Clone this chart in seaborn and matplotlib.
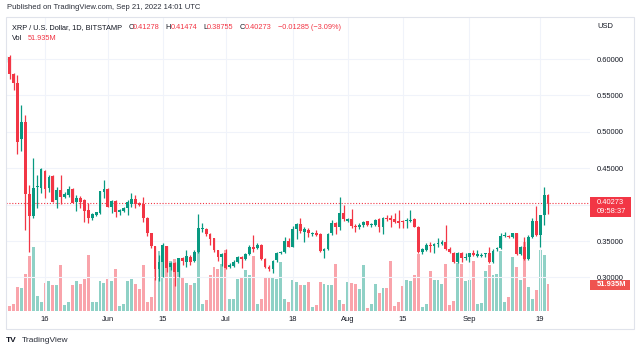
import numpy as np
import pandas as pd
import matplotlib
matplotlib.use("Agg")
import matplotlib.pyplot as plt
import matplotlib.dates as mdates
from matplotlib.patches import Rectangle
import seaborn as sns

sns.set_theme(style="white")
plt.rcParams['font.family'] = ['Liberation Sans', 'DejaVu Sans']

# ---------------- data ----------------
dates = pd.date_range("2022-05-06", "2022-09-21", freq="D")

opens = [
    # May 6-31
    0.5988, 0.6025, 0.5800, 0.5670, 0.4900, 0.5130, 0.4150, 0.3843, 0.4237, 0.4223,
    0.4466, 0.4233, 0.4393, 0.4063, 0.4201, 0.4100, 0.4132, 0.4210, 0.4040, 0.4086,
    0.4063, 0.3921, 0.3811, 0.3857, 0.3880, 0.4173,
    # Jun
    0.4210, 0.3962, 0.4054, 0.3903, 0.3917, 0.3949, 0.4008, 0.4077, 0.4017, 0.4004,
    0.3811, 0.3605, 0.3431, 0.3111, 0.3216, 0.3431, 0.3147, 0.3202, 0.3079, 0.3262,
    0.3216, 0.3285, 0.3225, 0.3353, 0.3665, 0.3665, 0.3592, 0.3537, 0.3376, 0.3285,
    # Jul
    0.3340, 0.3138, 0.3157, 0.3216, 0.3285, 0.3257, 0.3321, 0.3422, 0.3399, 0.3445,
    0.3248, 0.3147, 0.3111, 0.3239, 0.3331, 0.3353, 0.3505, 0.3422, 0.3660, 0.3734,
    0.3619, 0.3651, 0.3592, 0.3605, 0.3596, 0.3367, 0.3390, 0.3605, 0.3743, 0.3688,
    0.3880,
    # Aug
    0.3779, 0.3802, 0.3706, 0.3688, 0.3720, 0.3775, 0.3715, 0.3720, 0.3798, 0.3688,
    0.3811, 0.3811, 0.3798, 0.3779, 0.3775, 0.3775, 0.3779, 0.3798, 0.3697, 0.3353,
    0.3376, 0.3445, 0.3431, 0.3454, 0.3454, 0.3491, 0.3386, 0.3340, 0.3216, 0.3340,
    0.3262,
    # Sep 1-21
    0.3276, 0.3331, 0.3294, 0.3294, 0.3321, 0.3331, 0.3216, 0.3386, 0.3399, 0.3569,
    0.3569, 0.3550, 0.3605, 0.3321, 0.3422, 0.3248, 0.3550, 0.3779, 0.3582, 0.3857,
    0.41278,
]
highs = [
    0.6045, 0.6050, 0.5810, 0.5780, 0.5370, 0.5230, 0.4270, 0.4644, 0.4410, 0.4498,
    0.4475, 0.4407, 0.4407, 0.4246, 0.4407, 0.4178, 0.4255, 0.4223, 0.4132, 0.4118,
    0.4072, 0.4026, 0.3880, 0.3903, 0.4190, 0.4338,
    0.4223, 0.4063, 0.4063, 0.3935, 0.3962, 0.4063, 0.4164, 0.4132, 0.4040, 0.4109,
    0.3834, 0.3610, 0.3435, 0.3308, 0.3468, 0.3435, 0.3216, 0.3210, 0.3265, 0.3285,
    0.3376, 0.3308, 0.3376, 0.3871, 0.3743, 0.3674, 0.3605, 0.3540, 0.3380, 0.3331,
    0.3386, 0.3193, 0.3239, 0.3294, 0.3294, 0.3340, 0.3445, 0.3582, 0.3468, 0.3454,
    0.3262, 0.3170, 0.3239, 0.3353, 0.3367, 0.3550, 0.3537, 0.3706, 0.3752, 0.3811,
    0.3688, 0.3674, 0.3628, 0.3651, 0.3605, 0.3399, 0.3605, 0.3788, 0.3760, 0.4100,
    0.3994,
    0.3811, 0.3935, 0.3734, 0.3752, 0.3775, 0.3779, 0.3752, 0.3798, 0.3811, 0.3825,
    0.3857, 0.3857, 0.3880, 0.3926, 0.3788, 0.3811, 0.3926, 0.3811, 0.3706, 0.3399,
    0.3468, 0.3491, 0.3468, 0.3537, 0.3514, 0.3720, 0.3422, 0.3353, 0.3353, 0.3353,
    0.3331,
    0.3340, 0.3376, 0.3376, 0.3331, 0.3340, 0.3422, 0.3386, 0.3413, 0.3605, 0.3628,
    0.3582, 0.3614, 0.3614, 0.3431, 0.3550, 0.3582, 0.3811, 0.3981, 0.3860, 0.4237,
    0.41474,
]
lows = [
    0.5960, 0.5720, 0.5580, 0.4700, 0.4730, 0.3650, 0.3345, 0.3810, 0.3960, 0.4155,
    0.4086, 0.4178, 0.4035, 0.3958, 0.4008, 0.4086, 0.4109, 0.4017, 0.3912, 0.3949,
    0.3766, 0.3752, 0.3788, 0.3850, 0.3871, 0.4086,
    0.3965, 0.3889, 0.3834, 0.3857, 0.3903, 0.3857, 0.3962, 0.3949, 0.3981, 0.3766,
    0.3569, 0.3399, 0.2964, 0.2951, 0.3010, 0.3079, 0.3102, 0.2882, 0.3010, 0.3170,
    0.3147, 0.3170, 0.3216, 0.3331, 0.3628, 0.3569, 0.3445, 0.3353, 0.3225, 0.3150,
    0.3115, 0.3125, 0.3147, 0.3193, 0.3125, 0.3239, 0.3308, 0.3353, 0.3390, 0.3239,
    0.3125, 0.3092, 0.3056, 0.3216, 0.3321, 0.3331, 0.3415, 0.3413, 0.3523, 0.3605,
    0.3491, 0.3550, 0.3569, 0.3569, 0.3353, 0.3262, 0.3376, 0.3582, 0.3600, 0.3651,
    0.3779,
    0.3766, 0.3674, 0.3628, 0.3660, 0.3688, 0.3706, 0.3688, 0.3706, 0.3628, 0.3596,
    0.3779, 0.3697, 0.3743, 0.3674, 0.3674, 0.3674, 0.3766, 0.3688, 0.3331, 0.3321,
    0.3367, 0.3353, 0.3331, 0.3413, 0.3445, 0.3376, 0.3331, 0.3202, 0.3202, 0.3216,
    0.3239,
    0.3216, 0.3294, 0.3285, 0.3285, 0.3285, 0.3193, 0.3202, 0.3367, 0.3386, 0.3560,
    0.3537, 0.3537, 0.3308, 0.3308, 0.3239, 0.3239, 0.3537, 0.3569, 0.3413, 0.3720,
    0.38755,
]
closes = [
    0.6025, 0.5800, 0.5670, 0.4860, 0.5140, 0.4146, 0.3843, 0.4223, 0.4255, 0.4489,
    0.4210, 0.4375, 0.4040, 0.4201, 0.4100, 0.4146, 0.4210, 0.4026, 0.4086, 0.4040,
    0.3912, 0.3811, 0.3866, 0.3894, 0.4187, 0.4210,
    0.3972, 0.4054, 0.3903, 0.3926, 0.3953, 0.4031, 0.4072, 0.4008, 0.3995, 0.3811,
    0.3605, 0.3431, 0.3111, 0.3216, 0.3445, 0.3125, 0.3202, 0.3079, 0.3262, 0.3230,
    0.3294, 0.3216, 0.3353, 0.3674, 0.3674, 0.3592, 0.3523, 0.3376, 0.3276, 0.3321,
    0.3125, 0.3170, 0.3216, 0.3276, 0.3248, 0.3321, 0.3422, 0.3390, 0.3445, 0.3248,
    0.3147, 0.3111, 0.3230, 0.3340, 0.3353, 0.3505, 0.3422, 0.3660, 0.3734, 0.3637,
    0.3665, 0.3614, 0.3605, 0.3582, 0.3367, 0.3390, 0.3596, 0.3743, 0.3690, 0.3880,
    0.3798,
    0.3802, 0.3706, 0.3688, 0.3720, 0.3766, 0.3720, 0.3734, 0.3788, 0.3688, 0.3811,
    0.3798, 0.3788, 0.3766, 0.3752, 0.3756, 0.3788, 0.3788, 0.3697, 0.3353, 0.3386,
    0.3445, 0.3431, 0.3459, 0.3468, 0.3491, 0.3386, 0.3353, 0.3216, 0.3340, 0.3262,
    0.3276,
    0.3331, 0.3308, 0.3321, 0.3312, 0.3331, 0.3216, 0.3367, 0.3399, 0.3569, 0.3582,
    0.3550, 0.3605, 0.3321, 0.3422, 0.3248, 0.3550, 0.3779, 0.3582, 0.3857, 0.4128,
    0.40273,
]
volumes_m = [
    68.2, 8.9, 12.7, 45.5, 43.6, 69.5, 103.7, 121.3, 27.9, 17.1, 53.6, 56.3, 49.8,
    48.7, 86.6, 10.8, 16.5, 48.7, 56.3, 51.7, 61.2, 105.5, 17.6, 17.6, 56.8, 53.6,
    61.2, 56.3, 80.2, 10.0, 13.8, 56.8, 60.1, 50.6, 42.3, 86.6, 17.6, 26.5, 85.3,
    113.7, 121.3, 98.5, 94.8, 98.5, 85.3, 64.4, 53.1, 49.3, 53.1, 111.8, 13.3, 20.8,
    68.2, 83.4, 79.6, 89.1,
    115.6, 22.7, 22.7, 60.6, 64.4, 77.7, 68.2, 104.2, 13.3, 22.7, 64.4, 62.5, 64.4,
    60.6, 92.9, 22.7, 17.1, 58.2, 55.0, 48.7, 49.3, 55.0, 7.6, 11.4, 55.0, 50.6,
    48.7, 48.7, 89.6, 20.3, 13.8,
    55.0, 53.1, 51.7, 41.1, 86.6, 6.3, 13.8, 50.6, 34.7, 44.2, 44.2, 94.2, 9.5,
    17.1, 46.8, 58.2, 56.9, 67.7, 107.4, 7.6, 12.7, 75.8, 59.3, 58.2, 50.6, 89.6,
    10.8, 18.4, 91.0, 88.5, 56.9,
    59.3, 94.8, 12.7, 15.2, 75.8, 87.2, 68.2, 70.9, 113.7, 17.1, 26.5, 102.3, 83.4,
    58.2, 132.7, 45.5, 23.3, 40.4, 115.0, 105.6, 51.935,
]
tick_dates = ["2022-05-16", "2022-06-01", "2022-06-15", "2022-07-01", "2022-07-18",
              "2022-08-01", "2022-08-15", "2022-09-01", "2022-09-19"]
tick_labels = ["16", "Jun", "15", "Jul", "18", "Aug", "15", "Sep", "19"]
price_ticks = [0.30, 0.35, 0.40, 0.45, 0.50, 0.55, 0.60]
# 0.40000 sits under the last-price tag in the reference, so it is not shown
price_labels = ["0.30000", "0.35000", "", "0.45000", "0.50000", "0.55000", "0.60000"]

df = pd.DataFrame({"date": dates, "open": opens, "high": highs, "low": lows,
                   "close": closes, "vol": volumes_m})

UP = "#089981"
DOWN = "#F23645"
TXT = "#131722"
FS = 5.4

# ---------------- figure ----------------
W, H = 640, 352
fig = plt.figure(figsize=(6.4, 3.52), dpi=100)
fig.patch.set_facecolor("white")


def fx(px):
    return px / W


def fy(py):
    return 1 - py / H


rect = [fx(6), fy(311), fx(590) - fx(6), fy(17) - fy(311)]
axv = fig.add_axes(rect)
ax = fig.add_axes(rect, sharex=axv)
ax.patch.set_visible(False)
axv.set_facecolor("white")

x = mdates.date2num(df["date"])
up = df["close"] >= df["open"]
col = np.where(up, UP, DOWN)

# volume bars
vcol = [(8/255, 153/255, 129/255, 0.45) if u else (242/255, 54/255, 69/255, 0.45) for u in up]
axv.bar(x, df["vol"], width=0.74, color=vcol, linewidth=0)
axv.set_ylim(0, 557)
axv.set_yticks([])

# candles
ax.set_axisbelow(True)
ax.vlines(x, df["low"], df["high"], colors=col, linewidth=0.9, zorder=2)
body_lo = np.minimum(df["open"], df["close"])
body_h = np.maximum(np.abs(df["close"] - df["open"]), 0.0012)
ax.bar(x, body_h, bottom=body_lo, width=0.72, color=col, linewidth=0, zorder=3)

x0 = mdates.date2num(pd.Timestamp("2022-05-16"))
ax.set_xlim(x0 + (6 - 45) / 3.93, x0 + (590 - 45) / 3.93)
ax.set_ylim(0.60 - (311 - 59) / 728, 0.60 + (59 - 17) / 728)

ax.axhline(closes[-1], color=DOWN, linestyle=(0, (1, 1.6)), linewidth=0.8, zorder=1)

# ticks
ax.set_xticks(mdates.date2num(pd.to_datetime(tick_dates)))
ax.set_xticklabels(tick_labels)
ax.set_yticks(price_ticks)
ax.set_yticklabels(price_labels)
ax.yaxis.tick_right()
ax.tick_params(axis="y", length=0, pad=5, labelsize=FS, labelcolor=TXT)
ax.tick_params(axis="x", length=0, pad=3.5, labelsize=FS, labelcolor=TXT)
axv.tick_params(axis="x", length=0, labelbottom=False)
ax.grid(True, color="#f0f3fa", linewidth=0.8)
axv.grid(False)
for a in (ax, axv):
    for s in a.spines.values():
        s.set_visible(False)

# frame
fig.add_artist(Rectangle((fx(6), fy(329)), fx(634) - fx(6), fy(17) - fy(329),
                         transform=fig.transFigure, fill=False,
                         edgecolor="#e0e3eb", linewidth=0.8))

fig.canvas.draw()
# last-price tag
py = H - ax.transData.transform((0, closes[-1]))[1]
fig.add_artist(Rectangle((fx(590), fy(py + 14.5)), fx(631) - fx(590), 20 / H,
                         transform=fig.transFigure, facecolor=DOWN, edgecolor="none"))
fig.text(fx(597), fy(py), f"{closes[-1]:.5f}", color="white", fontsize=FS,
         va="center", ha="left")
fig.text(fx(597), fy(py + 9), "09:58:37", color="white", fontsize=FS,
         va="center", ha="left")
# volume tag
vy = H - axv.transData.transform((0, volumes_m[-1]))[1]
fig.add_artist(Rectangle((fx(590), fy(vy + 6)), fx(630) - fx(590), 9.5 / H,
                         transform=fig.transFigure, facecolor="#EF5350", edgecolor="none"))
fig.text(fx(597), fy(vy + 1.3), f"{volumes_m[-1]:.3f}M", color="white", fontsize=FS,
         va="center", ha="left", weight="bold")

fig.text(fx(597), fy(26.7), "USD", color=TXT, fontsize=FS, va="center", ha="left")

# header texts
fig.text(fx(7), fy(7.5), "Published on TradingView.com, Sep 21, 2022 14:01 UTC",
         color="#2a2e39", fontsize=5.5, va="center", ha="left")
fig.text(fx(12), fy(27.3), "XRP / U.S. Dollar, 1D, BITSTAMP", color=TXT,
         fontsize=5.3, va="center", ha="left")
legend_items = [("O", 128.3, "0.41278", 132.7), ("H", 165.7, "0.41474", 171.0),
                ("L", 203.3, "0.38755", 206.7), ("C", 240.0, "0.40273", 244.3)]
for k, kx, v, vx in legend_items:
    fig.text(fx(kx), fy(27.3), k, color=TXT, fontsize=5.3, va="center", ha="left")
    fig.text(fx(vx), fy(27.3), v, color=DOWN, fontsize=5.3, va="center", ha="left")
fig.text(fx(278.3), fy(27.3), "\u22120.01285 (\u22123.09%)", color=DOWN,
         fontsize=5.3, va="center", ha="left")
fig.text(fx(12), fy(38.5), "Vol", color=TXT, fontsize=5.3, va="center", ha="left")
fig.text(fx(27.3), fy(38.5), "51.935M", color=DOWN, fontsize=5.3, va="center", ha="left")

# TradingView logo
fig.text(fx(6), fy(340), "TV", color=TXT, fontsize=6.0, va="center", ha="left",
         weight="heavy")
fig.text(fx(22), fy(340), "TradingView", color="#2a2e39", fontsize=6.0,
         va="center", ha="left")

fig.savefig("out.png", dpi=100, facecolor="white")
